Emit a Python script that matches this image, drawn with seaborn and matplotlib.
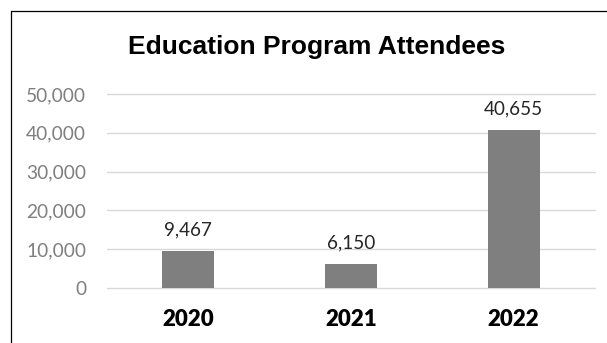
import matplotlib
matplotlib.use("Agg")
import matplotlib.pyplot as plt
from matplotlib.lines import Line2D
import seaborn as sns
import pandas as pd

years = ["2020", "2021", "2022"]
attendees = [9467, 6150, 40655]
yticks = [0, 10000, 20000, 30000, 40000, 50000]
title = "Education Program Attendees"

sns.set_theme(style="white")
plt.rcParams['font.family'] = ['Lato', 'DejaVu Sans']

W, H = 607, 343
fig = plt.figure(figsize=(W / 100, H / 100), dpi=100)
ax = fig.add_axes([107 / W, 55 / H, (595 - 107) / W, (288 - 94) / H])

df = pd.DataFrame({"year": years, "value": attendees})
sns.barplot(data=df, x="year", y="value", color="#7f7f7f", saturation=1,
            width=0.32, ax=ax, edgecolor="none")

ax.set_ylim(0, 50000)
ax.set_yticks(yticks)
ax.set_yticklabels([f"{v:,}" for v in yticks], color="#7f7f7f", fontsize=13.8)
ax.tick_params(axis="y", length=0, pad=15)
ax.tick_params(axis="x", length=0, pad=15)
for lbl in ax.get_xticklabels():
    lbl.set_fontweight("heavy")
    lbl.set_fontsize(16)
    lbl.set_color("black")
ax.set_xlabel("")
ax.set_ylabel("")
for s in ax.spines.values():
    s.set_visible(False)
for v in yticks:
    ax.axhline(v, color="#d9d9d9", lw=1.0, zorder=0, clip_on=False)
ax.set_axisbelow(True)

for i, v in enumerate(attendees):
    ax.annotate(f"{v:,}", (i, v), xytext=(0, 9), textcoords="offset points",
                ha="center", va="bottom", fontsize=13.6, color="#262626")

fig.text(317 / W, 1 - 47 / H, title, ha="center", va="center",
         fontsize=19, fontweight="bold", family=["Liberation Sans", "DejaVu Sans"],
         color="black")

fig.add_artist(Line2D([10.5 / W, 10.5 / W], [0, 1 - 10.5 / H], transform=fig.transFigure,
                      color="black", lw=0.9))
fig.add_artist(Line2D([10.5 / W, 1], [1 - 10.5 / H, 1 - 10.5 / H], transform=fig.transFigure,
                      color="black", lw=0.9))

fig.savefig("out.png", dpi=100, facecolor="white")
